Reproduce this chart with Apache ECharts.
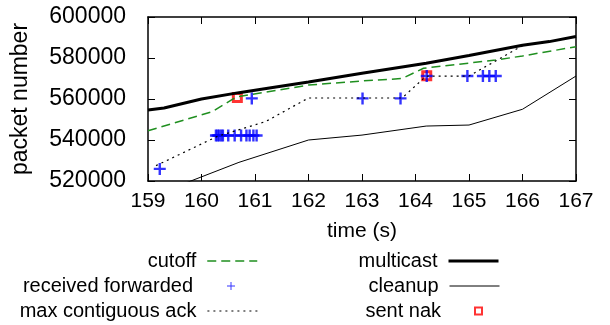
<!DOCTYPE html>
<html>
<head>
<meta charset="utf-8">
<script src="https://cdn.jsdelivr.net/npm/echarts@6/dist/echarts.min.js"></script>
<style>
  body { margin: 0; background: #fff; }
  #chart { width: 610px; height: 325px; }
</style>
</head>
<body>
<div id="chart"></div>
<script>
// data (time in s, packet number)
const xTicks = [159, 160, 161, 162, 163, 164, 165, 166, 167];
const yTicks = [520000, 540000, 560000, 580000, 600000];

const multicastT = [159, 159.3, 160, 160.7, 161.3, 162, 163, 164.2, 165, 166, 166.5, 167];
const multicastV = [554600, 555600, 560000, 563100, 565500, 568300, 572600, 577400, 581200, 586200, 588000, 590500];

const cutoffT = [159, 160.2, 160.65, 162, 163, 163.75, 164.15, 165.5, 166, 167];
const cutoffV = [544500, 553800, 561000, 566800, 568800, 570000, 575000, 579000, 581000, 585500];

const cleanupT = [159, 159.8, 160.7, 162, 163, 164.2, 165, 166, 167];
const cleanupV = [512000, 520000, 529100, 540000, 542400, 546800, 547300, 555000, 571200];

const ackT = [159.15, 160.3, 161.2, 162, 163.75, 164.2, 165, 166];
const ackV = [527500, 541800, 549000, 560500, 560500, 571200, 571200, 586000];

const recvT = [159.22, 160.27, 160.3, 160.33, 160.37, 160.4, 160.5, 160.62, 160.74, 160.84, 160.9, 160.97, 161.03,
               160.94, 163.01, 163.72, 164.21, 164.97, 165.26, 165.38, 165.5];
const recvV = [525900, 542200, 542200, 542200, 542200, 542200, 542200, 542200, 542200, 542200, 542200, 542200, 542200,
               560300, 560300, 560300, 571200, 571200, 571200, 571200, 571200];

const nakT = [160.67, 164.21];
const nakV = [560700, 571300];

const zip = (t, v) => t.map((x, i) => [x, v[i]]);

const FONT = 'Liberation Sans';
const plus = 'path://M4,0H6V4H10V6H6V10H4V6H0V4H4Z';
const thinPlus = 'path://M4.4,0H5.6V4.4H10V5.6H5.6V10H4.4V5.6H0V4.4H4.4Z';
const square = 'path://M0,0H10V10H0Z';

const axisLine = { show: true, lineStyle: { color: '#000', width: 1.5 } };
const tick = { show: true, inside: true, length: 7, lineStyle: { color: '#000', width: 1 } };

// one legend per entry so the rows line up like gnuplot's key
const rows = [261, 286, 311];
function key(item, col, row, extra, gap) {
  return Object.assign({
    orient: 'vertical',
    align: 'right',
    padding: 0,
    itemGap: 0,
    itemWidth: 50,
    itemHeight: 14,
    right: col === 0 ? 352 : 110,
    top: rows[row] - 12.5,
    textStyle: { color: '#000', fontFamily: FONT, fontSize: 20, lineHeight: 25, padding: [0, gap || 6, 0, 0] },
    data: [item]
  }, extra || {});
}
const noSymbol = { opacity: 0 };

const option = {
  animation: false,
  backgroundColor: '#fff',
  grid: { left: 148, right: 34, top: 17, bottom: 144 },
  legend: [
    key({ name: 'cutoff', itemStyle: noSymbol, lineStyle: { width: 1.5 } }, 0, 0),
    key({ name: 'received forwarded', icon: thinPlus }, 0, 1, { itemHeight: 8, itemWidth: 8, right: 375 }, 29),
    key({ name: 'max contiguous ack', itemStyle: noSymbol, lineStyle: { width: 1.2 } }, 0, 2),
    key({ name: 'multicast', itemStyle: noSymbol, lineStyle: { width: 3 } }, 1, 0),
    key({ name: 'cleanup', itemStyle: noSymbol, lineStyle: { width: 1 } }, 1, 1),
    key({ name: 'sent nak', icon: square, itemStyle: { borderWidth: 2 } }, 1, 2, { itemHeight: 7, itemWidth: 7, right: 127 }, 29)
  ],
  xAxis: [
    {
      type: 'value', min: 159, max: 167, interval: 1,
      name: 'time (s)', nameLocation: 'middle', nameGap: 40,
      nameTextStyle: { color: '#000', fontFamily: FONT, fontSize: 21 },
      axisLine, axisTick: tick, splitLine: { show: false },
      axisLabel: { color: '#000', fontFamily: FONT, fontSize: 21, margin: 10,
                   formatter: v => xTicks.includes(v) ? String(v) : '' }
    },
    {
      type: 'value', position: 'top', min: 159, max: 167, interval: 1,
      axisLine, axisTick: tick, splitLine: { show: false }, axisLabel: { show: false }
    }
  ],
  yAxis: [
    {
      type: 'value', min: 520000, max: 600000, interval: 20000,
      name: 'packet number', nameLocation: 'middle', nameGap: 116, nameRotate: 90,
      nameTextStyle: { color: '#000', fontFamily: FONT, fontSize: 23 },
      axisLine, axisTick: tick, splitLine: { show: false },
      axisLabel: { color: '#000', fontFamily: FONT, fontSize: 23, margin: 22, padding: [0, 0, 7, 0],
                   formatter: v => yTicks.includes(v) ? String(v) : '' }
    },
    {
      type: 'value', position: 'right', min: 520000, max: 600000, interval: 20000,
      axisLine, axisTick: tick, splitLine: { show: false }, axisLabel: { show: false }
    }
  ],
  series: [
    {
      name: 'cutoff', type: 'line', data: zip(cutoffT, cutoffV), symbol: 'none',
      lineStyle: { color: '#1f8f1f', width: 1.5, type: [9, 5] }, itemStyle: { color: '#1f8f1f' }
    },
    {
      name: 'max contiguous ack', type: 'line', data: zip(ackT, ackV), symbol: 'none',
      lineStyle: { color: '#000', width: 1.2, type: [2, 4] }, itemStyle: { color: '#000' }
    },
    {
      name: 'cleanup', type: 'line', data: zip(cleanupT, cleanupV), symbol: 'none',
      lineStyle: { color: '#000', width: 1 }, itemStyle: { color: '#000' }
    },
    {
      name: 'multicast', type: 'line', data: zip(multicastT, multicastV), symbol: 'none',
      lineStyle: { color: '#000', width: 3 }, itemStyle: { color: '#000' }
    },
    {
      name: 'sent nak', type: 'scatter', data: zip(nakT, nakV), symbol: 'rect', symbolSize: 8,
      itemStyle: { color: 'rgba(0,0,0,0)', borderColor: '#ff0000', borderWidth: 3 }
    },
    {
      name: 'received forwarded', type: 'scatter', data: zip(recvT, recvV), symbol: plus, symbolSize: 12,
      itemStyle: { color: '#0000ff' }
    }
  ]
};

const myChart = echarts.init(document.getElementById('chart'));
myChart.setOption(option);
</script>
</body>
</html>
